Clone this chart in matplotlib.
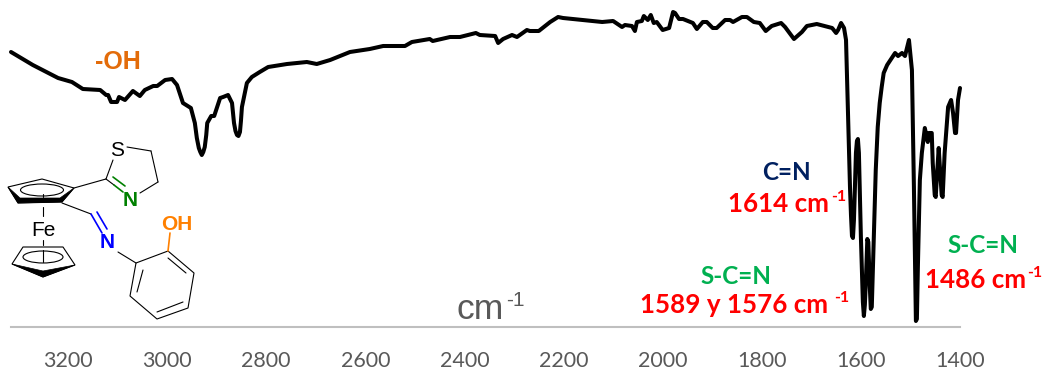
import matplotlib
matplotlib.use('Agg')
import matplotlib.pyplot as plt
from matplotlib.patches import Polygon, Ellipse

plt.rcParams['font.family'] = 'Lato'

# ── Spectrum (arbitrary transmittance, 0 = baseline) ───
wavenumber = [3315, 3271, 3220, 3192, 3170, 3135, 3123, 3119, 3113, 3101, 3097, 3085,
              3069, 3055, 3045, 3028, 3020, 3004, 2990, 2980, 2968, 2952, 2944, 2940,
              2936, 2933, 2930, 2927, 2924, 2921, 2919, 2911, 2905, 2893, 2887, 2877,
              2869, 2865, 2862, 2859, 2856, 2853, 2851, 2849, 2839, 2829, 2813, 2796,
              2758, 2718, 2698, 2671, 2631, 2591, 2564,
              2520, 2506, 2470, 2464, 2429, 2409, 2377, 2369, 2338, 2332, 2322, 2304,
              2294, 2274, 2268, 2250, 2227, 2211, 2201, 2122, 2100, 2082, 2076, 2062,
              2056, 2052, 2042, 2038, 2030, 2024, 2018, 2012, 2000, 1987, 1979, 1975,
              1967, 1959, 1939, 1931, 1919, 1911, 1899, 1891, 1874, 1864, 1858, 1840,
              1830, 1816, 1804, 1792, 1780, 1761, 1753, 1735, 1719, 1709, 1689, 1658,
              1650, 1646, 1640, 1634, 1630, 1626, 1622, 1620, 1618, 1616, 1614, 1610,
              1608, 1606, 1604, 1600, 1596, 1594, 1592, 1590, 1587, 1585, 1582, 1580,
              1578, 1574, 1570, 1566, 1562, 1558, 1554, 1547, 1539, 1531, 1525,
              1517, 1511, 1503, 1497, 1493, 1491, 1489, 1487, 1485, 1481, 1477, 1471,
              1465, 1463, 1457, 1455, 1451, 1449, 1447, 1443, 1439, 1437, 1435, 1431,
              1424, 1418, 1414, 1410, 1408, 1404, 1400]
transmittance = [275, 262, 249, 245, 238, 237, 232, 232, 225, 225, 230, 227,
                 236, 231, 237, 241, 241, 247, 248, 242, 224, 219, 204, 189,
                 179, 175, 172, 175, 180, 192, 204, 211, 211, 229, 230, 232,
                 224, 204, 196, 192, 191, 195, 206, 220, 244, 250, 255, 260,
                 263, 265, 263, 267, 275, 278, 281,
                 281, 285, 288, 286, 290, 290, 294, 292, 291, 284, 288, 292,
                 290, 297, 296, 296, 305, 310, 309, 305, 306, 300, 302, 301,
                 296, 305, 306, 311, 307, 312, 304, 305, 297, 299, 315, 314,
                 308, 308, 304, 298, 305, 305, 299, 299, 307, 307, 305, 310,
                 310, 305, 304, 296, 301, 304, 300, 288, 295, 301, 303, 299,
                 294, 297, 304, 299, 287, 214, 140, 112, 91, 89, 107, 174,
                 186, 188, 174, 90, 25, 11, 22, 45, 88, 85, 40, 18,
                 20, 90, 157, 200, 224, 240, 254, 262, 268, 274, 271,
                 274, 271, 287, 257, 140, 72, 6, 8, 60, 147, 174, 199,
                 185, 194, 194, 164, 132, 130, 147, 179, 147, 132, 130, 174,
                 220, 227, 214, 194, 194, 227, 239]
tick_values = [3200, 3000, 2800, 2600, 2400, 2200, 2000, 1800, 1600, 1400]

GREY = '#595959'
RED = '#FF0000'
GREEN = '#00B050'
W, H = 1044, 371

fig = plt.figure(figsize=(W / 100, H / 100), dpi=100, facecolor='white')

ax = fig.add_axes([11 / W, (H - 327) / H, 949 / W, 327 / H])
ax.patch.set_visible(False)
ax.plot(wavenumber, transmittance, color='black', lw=2.9,
        solid_joinstyle='round', solid_capstyle='round', clip_on=False)
ax.set_xlim(3315, 1400)
ax.set_ylim(0, 327)
ax.set_yticks([])
ax.set_xticks(tick_values)
ax.set_xticklabels([str(t) for t in tick_values], fontsize=15.5, color=GREY)
ax.tick_params(axis='x', length=0, pad=17)
ax.spines[['top', 'right', 'left']].set_visible(False)
ax.spines['bottom'].set_color('#BFBFBF')
ax.spines['bottom'].set_linewidth(1.5)

# overlay in picture pixels for the annotations and the molecule sketch
ov = fig.add_axes([0, 0, 1, 1])
ov.set_xlim(0, W)
ov.set_ylim(H, 0)
ov.axis('off')
ov.patch.set_visible(False)

# ── Annotations ──────────────────────────────────────────────────────────────
def label(x, y, txt, color, size=17.5):
    ov.text(x, y, txt, color=color, fontsize=size, fontweight='bold', ha='left', va='baseline')

def wavenum(x, y, txt, sup_x):
    label(x, y, txt, RED, 18.7)
    label(sup_x, y - 11, '-1', RED, 11.5)

label(762, 180, 'C=N', '#002060')
wavenum(728, 212, '1614 cm', 831)
label(700, 284, 'S-C=N', GREEN)
wavenum(640, 313, '1589 y 1576 cm', 834)
label(947, 253, 'S-C=N', GREEN)
wavenum(925, 288, '1486 cm', 1027)

ov.text(118, 62, '-OH', color='#E36C0A', fontsize=18, fontweight='bold',
        family='Liberation Sans', ha='center', va='center')
ov.text(457, 319, 'cm', color=GREY, fontsize=25.5, family='Liberation Sans',
        ha='left', va='baseline')
ov.text(506, 306, '-1', color=GREY, fontsize=15, family='Liberation Sans',
        ha='left', va='baseline')

# ── Molecule ─────────────────────────────────────────────────────────────────
def bond(x0, y0, x1, y1, color='black', lw=0.8):
    ov.plot([x0, x1], [y0, y1], color=color, lw=lw, solid_capstyle='round')

def atom(x, y, txt, color='black', weight='normal'):
    ov.text(x, y, txt, color=color, fontsize=15, fontweight=weight,
            family='Liberation Sans', ha='center', va='center')

# upper Cp ring
ov.add_patch(Polygon([(8, 187), (42, 179), (74, 188), (62, 202), (18, 203)],
                     fill=False, edgecolor='black', lw=0.8))
ov.add_patch(Polygon([(8, 187), (18, 203), (62, 202), (74, 188), (60, 198), (20, 198)],
                     facecolor='black', edgecolor='black', lw=0.5))
ov.add_patch(Ellipse((42, 190), 43, 12, fill=False, edgecolor='black', lw=0.8))
bond(43, 194, 43, 197)
bond(43, 207, 43, 216)
atom(43, 230, 'Fe')
bond(43, 240, 43, 245)

# lower Cp ring
ov.add_patch(Polygon([(23, 247), (63, 247), (75, 265), (43, 277), (12, 264)],
                     fill=False, edgecolor='black', lw=0.8))
ov.add_patch(Polygon([(12, 264), (43, 277), (75, 265), (43, 271)],
                     facecolor='black', edgecolor='black', lw=0.5))
ov.add_patch(Ellipse((43, 257), 40, 12, fill=False, edgecolor='black', lw=0.8))
bond(43, 250, 43, 262)

# thiazoline
bond(74, 188, 106, 179)
bond(106, 179, 113, 160)
atom(117, 150, 'S')
bond(127, 147, 151, 151)
bond(151, 151, 158, 182)
bond(158, 182, 140, 193)
bond(106, 179, 114, 185)
bond(114, 185, 123, 192, '#008000', 1.2)
bond(113, 177, 125, 186, '#008000', 1.2)
atom(130, 200, 'N', '#008000', 'bold')

# imine
bond(62, 203, 91, 214)
bond(91, 214, 102, 233, '#0000FF', 1.2)
bond(97, 212, 107, 229, '#0000FF', 1.2)
atom(107, 243, 'N', '#0000FF', 'bold')
bond(118, 252, 136, 263)

# phenol
ov.add_patch(Polygon([(136, 263), (168, 251), (194, 273), (188, 308), (157, 319), (130, 296)],
                     fill=False, edgecolor='black', lw=0.8))
bond(168, 258, 186, 273)
bond(183, 302, 157, 312)
bond(143, 270, 137, 292)
bond(168, 251, 170, 233, '#FF8000', 1.2)
atom(177, 225, 'OH', '#FF8000', 'bold')

fig.savefig('out.png', dpi=100, facecolor='white')
